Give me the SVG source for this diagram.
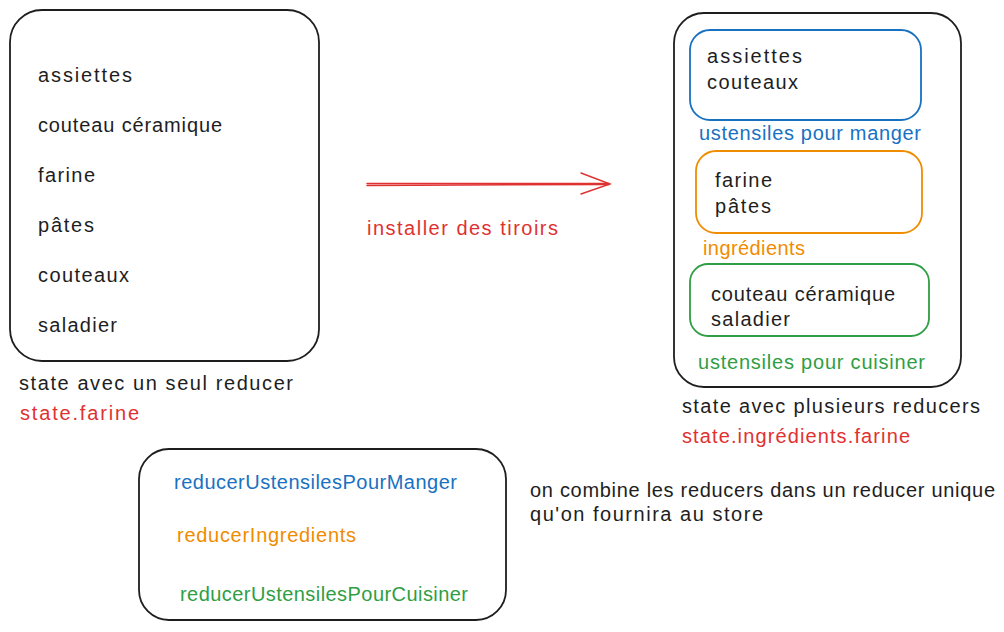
<svg xmlns="http://www.w3.org/2000/svg" width="1004" height="632" viewBox="0 0 1004 632">
<style>
text{font-family:"Liberation Sans",Arial,sans-serif;font-size:20px;fill:#1e1e1e;dominant-baseline:central}
.box{fill:none;stroke:#1e1e1e;stroke-width:1.8}
.blue{fill:#1971c2}.orange{fill:#f08c00}.green{fill:#2f9e44}.red{fill:#e03131}
</style>
<rect width="1004" height="632" fill="#ffffff"/>
<g id="single-state">
<rect class="box" x="10" y="10" width="309" height="351" rx="32"/>
<text x="38" y="75" textLength="94" lengthAdjust="spacing">assiettes</text>
<text x="38" y="125" textLength="184" lengthAdjust="spacing">couteau céramique</text>
<text x="38" y="175" textLength="57" lengthAdjust="spacing">farine</text>
<text x="38" y="225" textLength="56" lengthAdjust="spacing">pâtes</text>
<text x="38" y="275" textLength="91" lengthAdjust="spacing">couteaux</text>
<text x="38" y="325" textLength="79" lengthAdjust="spacing">saladier</text>
</g>
<g id="single-labels">
<text x="19" y="383" textLength="274" lengthAdjust="spacing">state avec un seul reducer</text>
<text class="red" x="20" y="413" textLength="119" lengthAdjust="spacing">state.farine</text>
</g>
<g id="multi-state">
<rect class="box" x="674" y="13" width="287" height="374" rx="30"/>
</g>
<g id="drawer-manger">
<rect x="690" y="30" width="231" height="90" rx="20" fill="none" stroke="#1971c2" stroke-width="1.8"/>
<text x="707" y="56" textLength="95" lengthAdjust="spacing">assiettes</text>
<text x="707" y="82" textLength="91" lengthAdjust="spacing">couteaux</text>
<text class="blue" x="699" y="133" textLength="222" lengthAdjust="spacing">ustensiles pour manger</text>
</g>
<g id="drawer-ingredients">
<rect x="696" y="151" width="226" height="82" rx="20" fill="none" stroke="#f08c00" stroke-width="1.8"/>
<text x="715" y="180" textLength="57" lengthAdjust="spacing">farine</text>
<text x="715" y="206" textLength="56" lengthAdjust="spacing">pâtes</text>
<text class="orange" x="703" y="248" textLength="102" lengthAdjust="spacing">ingrédients</text>
</g>
<g id="drawer-cuisiner">
<rect x="690" y="264" width="239" height="72" rx="18" fill="none" stroke="#2f9e44" stroke-width="1.8"/>
<text x="711" y="294" textLength="184" lengthAdjust="spacing">couteau céramique</text>
<text x="711" y="319" textLength="79" lengthAdjust="spacing">saladier</text>
<text class="green" x="698" y="362" textLength="227" lengthAdjust="spacing">ustensiles pour cuisiner</text>
</g>
<g id="multi-labels">
<text x="682" y="406" textLength="298" lengthAdjust="spacing">state avec plusieurs reducers</text>
<text class="red" x="682" y="436" textLength="228" lengthAdjust="spacing">state.ingrédients.farine</text>
</g>
<g id="combined-reducer">
<rect class="box" x="139" y="449" width="367" height="171" rx="30"/>
<text class="blue" x="174" y="482" textLength="283" lengthAdjust="spacing">reducerUstensilesPourManger</text>
<text class="orange" x="177" y="535" textLength="179" lengthAdjust="spacing">reducerIngredients</text>
<text class="green" x="180" y="594" textLength="288" lengthAdjust="spacing">reducerUstensilesPourCuisiner</text>
</g>
<g id="note">
<text x="530" y="490" textLength="465" lengthAdjust="spacing">on combine les reducers dans un reducer unique</text>
<text x="530" y="514" textLength="233" lengthAdjust="spacing">qu'on fournira au store</text>
</g>
<g id="connectors" fill="none" stroke="#e03131" stroke-width="1.4" stroke-linecap="round">
<path d="M367 183.5 L609 183.5 M367 185.5 L609 184.5"/>
<path d="M581 173 L610 184 L581 194"/>
<text class="red" x="367" y="228" textLength="191" lengthAdjust="spacing" stroke="none">installer des tiroirs</text>
</g>
</svg>
